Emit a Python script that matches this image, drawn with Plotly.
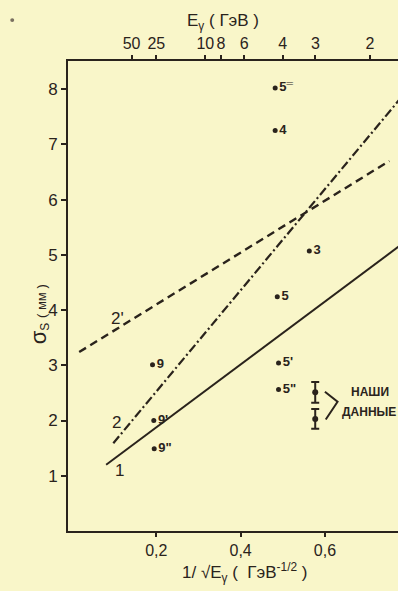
import plotly.graph_objects as go

# --- data ---
pt_x = [0.482, 0.482, 0.563, 0.487, 0.490, 0.490, 0.191, 0.194, 0.195]
pt_y = [8.02, 7.25, 5.07, 4.24, 3.04, 2.56, 3.01, 2.00, 1.49]
pt_lbl = ["5<sup>═</sup>", "4", "3", "5", "5'", "5\"", "9", "9'", "9\""]

our_x = [0.577, 0.577]
our_y = [2.51, 2.03]
our_err = [0.19, 0.18]

line1_x = [0.081, 0.775]
line1_y = [1.20, 5.15]
line2_x = [0.098, 0.780]
line2_y = [1.59, 7.84]
line2p_x = [0.017, 0.753]
line2p_y = [3.24, 6.70]

x_ticks = [0.2, 0.4, 0.6]
x_ticktext = ["0,2", "0,4", "0,6"]
y_ticks = [1, 2, 3, 4, 5, 6, 7, 8]
E_vals = [50, 25, 10, 8, 6, 4, 3, 2]

INK = "#2a231c"
BG = "#f9f6c9"
FONT = "Liberation Sans"

fig = go.Figure()

fig.add_trace(go.Scatter(x=line1_x, y=line1_y, mode="lines",
                         line=dict(color=INK, width=2), showlegend=False))
fig.add_trace(go.Scatter(x=line2_x, y=line2_y, mode="lines",
                         line=dict(color=INK, width=2.2, dash="9px,3px,2px,3px"), showlegend=False))
fig.add_trace(go.Scatter(x=line2p_x, y=line2p_y, mode="lines",
                         line=dict(color=INK, width=2.4, dash="8px,5px"), showlegend=False))

fig.add_trace(go.Scatter(x=pt_x, y=pt_y, mode="markers+text",
                         marker=dict(color=INK, size=5),
                         text=pt_lbl, textposition="middle right",
                         textfont=dict(family=FONT, size=13, color=INK, weight="bold"),
                         showlegend=False))

fig.add_trace(go.Scatter(x=our_x, y=our_y, mode="markers",
                         marker=dict(color=INK, size=6),
                         error_y=dict(type="data", array=our_err, color=INK, thickness=2, width=4),
                         showlegend=False))

# dummy trace for top axis
fig.add_trace(go.Scatter(x=[None], y=[None], xaxis="x2", showlegend=False))

# line labels
for txt, x, y in [("2'", 0.109, 3.84), ("2", 0.106, 1.97), ("1", 0.112, 1.10)]:
    fig.add_annotation(x=x, y=y, text=txt, showarrow=False,
                       font=dict(family=FONT, size=17, color=INK))

# "НАШИ ДАННЫЕ" bracket and text
fig.add_shape(type="path", path="M 0.600 2.52 L 0.630 2.34 L 0.602 2.02",
              line=dict(color=INK, width=2))
fig.add_annotation(xref="paper", x=0.850, y=2.52, text="<b>НАШИ</b>", showarrow=False,
                   font=dict(family=FONT, size=12, color=INK), xanchor="left")
fig.add_annotation(xref="paper", x=1.0, y=2.16, text="<b>ДАННЫЕ</b>", showarrow=False,
                   font=dict(family=FONT, size=12, color=INK), xanchor="right")

# axis titles
fig.add_annotation(xref="paper", yref="paper", x=0.47, y=1.0, yshift=52,
                   text="E<sub>γ</sub> ( ГэВ )", showarrow=False,
                   font=dict(family=FONT, size=17, color=INK))
fig.add_annotation(xref="paper", yref="paper", x=0.536, y=0.0, yshift=-56,
                   text="1/ √E<sub>γ</sub> (  ГэВ<sup>-1/2</sup> )", showarrow=False,
                   font=dict(family=FONT, size=17, color=INK))
fig.add_annotation(xref="paper", yref="paper", x=0.0, xshift=-44, y=0.46,
                   text="<span style='font-size:22px'>σ</span><sub>S</sub> <span style='font-size:13px'>( мм )</span>",
                   textangle=-90, showarrow=False,
                   font=dict(family=FONT, size=17, color=INK))

# scan speck
fig.add_shape(type="circle", xref="paper", yref="paper",
              x0=-0.175, x1=-0.163, y0=1.083, y1=1.091,
              fillcolor="#7a7060", line=dict(width=0))

fig.update_layout(
    width=398, height=591,
    margin=dict(l=68, r=0, t=61, b=60),
    paper_bgcolor=BG, plot_bgcolor=BG,
    font=dict(family=FONT, color=INK),
    xaxis=dict(range=[-0.0095, 0.7734], tickvals=x_ticks, ticktext=x_ticktext,
               showgrid=False, zeroline=False, showline=True, linecolor=INK, linewidth=2,
               ticks="outside", ticklen=4, tickwidth=1.5, tickcolor=INK,
               tickfont=dict(family=FONT, size=16, color=INK)),
    xaxis2=dict(overlaying="x", side="top", matches="x",
                tickvals=[1 / e ** 0.5 for e in E_vals], ticktext=[str(e) for e in E_vals],
                showgrid=False, zeroline=False, showline=True, linecolor=INK, linewidth=2,
                ticks="outside", ticklen=4, tickwidth=1.5, tickcolor=INK,
                tickfont=dict(family=FONT, size=16, color=INK)),
    yaxis=dict(range=[0, 8.51], tickvals=y_ticks,
               showgrid=False, zeroline=False, showline=True, linecolor=INK, linewidth=2,
               ticks="outside", ticklen=5, tickwidth=1.5, tickcolor=INK,
               tickfont=dict(family=FONT, size=17, color=INK)),
)

fig.write_html("out.html")
